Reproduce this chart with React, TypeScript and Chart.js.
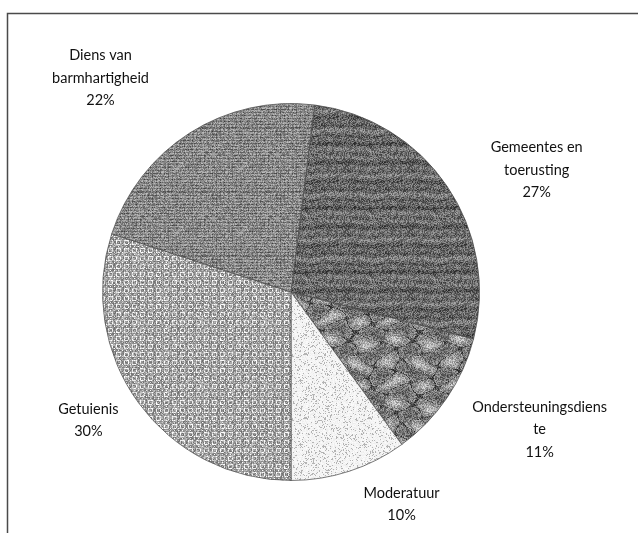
import { useEffect, useRef } from "react";
import { Chart, registerables } from "chart.js";

Chart.register(...registerables);

const categories = [
  "Gemeentes en toerusting",
  "Ondersteuningsdienste",
  "Moderatuur",
  "Getuienis",
  "Diens van barmhartigheid",
];
const labelLines = [
  ["Gemeentes en", "toerusting"],
  ["Ondersteuningsdiens", "te"],
  ["Moderatuur"],
  ["Getuienis"],
  ["Diens van", "barmhartigheid"],
];
const values = [27, 11, 10, 30, 22];
const percentLabels = ["27%", "11%", "10%", "30%", "22%"];

// label placement: angular nudge from slice middle (deg) and distance (x radius)
const labelNudge = [7.8, -5.2, -9.5, 3.6, -9.3];
const labelDist = [1.455, 1.508, 1.27, 1.273, 1.519];

function rng(seed: number) {
  let s = seed >>> 0;
  return () => {
    s = (Math.imul(s, 1664525) + 1013904223) >>> 0;
    return s / 4294967296;
  };
}

function texture(kind: number): CanvasPattern | string {
  const size = 64;
  const c = document.createElement("canvas");
  c.width = size;
  c.height = size;
  const ctx = c.getContext("2d");
  if (!ctx) return "#888";
  const img = ctx.createImageData(size, size);
  const r = rng(kind * 977 + 31);
  const TAU = 2 * Math.PI;
  for (let y = 0; y < size; y++) {
    for (let x = 0; x < size; x++) {
      let v = 128;
      if (kind === 0) {
        const ph = 0.8 * Math.sin((x / 64) * TAU) + 0.5 * Math.sin((x / 32) * TAU + 1);
        const band = Math.sin(((y + ph) / 64) * TAU * 7);
        const band2 = Math.sin(((y + ph * 0.5) / 64) * TAU * 3 + 0.7);
        v = 105 + band * 14 + band2 * 10 + (r() - 0.5) * 95;
      } else if (kind === 1) {
        const m =
          Math.sin((x / 64) * TAU * 2 + 1.3 * Math.sin((y / 64) * TAU * 2)) +
          Math.cos((y / 64) * TAU * 3 + 1.1 * Math.sin((x / 64) * TAU));
        v = 135 + 18 * m + (r() - 0.5) * 95;
        if (Math.abs(m) < 0.12) v -= 55;
        if (m > 1.5) v += 15;
      } else if (kind === 2) {
        v = r() < 0.14 ? 180 : 244 + (r() - 0.5) * 14;
      } else if (kind === 3) {
        const bx = Math.floor(x / 4) % 2;
        const by = Math.floor(y / 4) % 2;
        const light = (x % 4 === 0 && by === 0) || (y % 4 === 0 && bx === 1) || (x % 4 === 2 && by === 1 && y % 2 === 0);
        v = (light ? 228 : 148) + (r() - 0.5) * 80;
      } else {
        v = 150 + (y % 3 === 0 ? -35 : 0) + (x % 4 === 0 ? -15 : 0) + (r() - 0.5) * 85;
      }
      v = Math.max(0, Math.min(255, v));
      const i = (y * size + x) * 4;
      img.data[i] = v;
      img.data[i + 1] = v;
      img.data[i + 2] = v;
      img.data[i + 3] = 255;
    }
  }
  ctx.putImageData(img, 0, 0);
  const p = ctx.createPattern(c, "repeat");
  return p || "#888";
}

const framePlugin = {
  id: "frame",
  beforeDraw(chart: any) {
    const ctx = chart.ctx;
    ctx.save();
    ctx.fillStyle = "#ffffff";
    ctx.fillRect(0, 0, chart.width, chart.height);
    ctx.strokeStyle = "#4a4a4a";
    ctx.lineWidth = 1.5;
    ctx.strokeRect(7.5, 13.5, 700, 700);
    ctx.restore();
  },
};

const labelPlugin = {
  id: "outsideLabels",
  afterDraw(chart: any) {
    const ctx = chart.ctx;
    const meta = chart.getDatasetMeta(0);
    ctx.save();
    ctx.font = "14.5px Lato, 'Open Sans', sans-serif";
    ctx.fillStyle = "#111111";
    ctx.textAlign = "center";
    ctx.textBaseline = "middle";
    const lh = 22.5;
    meta.data.forEach((el: any, i: number) => {
      const p = el.getProps(["x", "y", "startAngle", "endAngle", "outerRadius"], true);
      const mid = (p.startAngle + p.endAngle) / 2 + (labelNudge[i] * Math.PI) / 180;
      const d = p.outerRadius * labelDist[i];
      const cx = p.x + Math.cos(mid) * d;
      const cy = p.y + Math.sin(mid) * d;
      const lines = [...labelLines[i], percentLabels[i]];
      const top = cy - ((lines.length - 1) * lh) / 2;
      lines.forEach((t, k) => ctx.fillText(t, cx, top + k * lh));
    });
    ctx.restore();
  },
};

export default function App() {
  const ref = useRef<HTMLCanvasElement | null>(null);
  useEffect(() => {
    if (!ref.current) return;
    const patterns = values.map((_, i) => texture(i));
    const chart = new Chart(ref.current, {
      type: "pie",
      data: {
        labels: categories,
        datasets: [
          {
            data: values,
            backgroundColor: patterns as any,
            borderColor: "rgba(70,70,70,0.7)",
            borderWidth: 1,
          },
        ],
      },
      options: {
        responsive: false,
        animation: false,
        rotation: 7.2,
        layout: { padding: { top: 103, bottom: 52, left: 102, right: 158 } },
        plugins: {
          legend: { display: false },
          tooltip: { enabled: false },
        },
      },
      plugins: [framePlugin, labelPlugin],
    });
    return () => chart.destroy();
  }, []);
  return (
    <div style={{ position: "absolute", left: 0, top: 0, width: 638, height: 533, overflow: "hidden" }}>
      <canvas ref={ref} width={638} height={533} style={{ display: "block" }} />
    </div>
  );
}
